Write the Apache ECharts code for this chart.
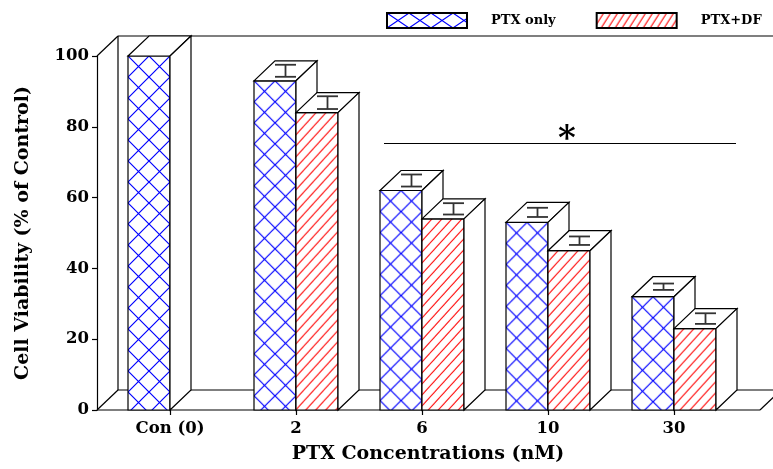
<!DOCTYPE html>
<html>
<head>
<meta charset="utf-8">
<script src="https://cdn.jsdelivr.net/npm/echarts@6/dist/echarts.min.js"></script>
<style>
  html, body { margin: 0; padding: 0; background: #fff; }
  #chart { width: 773px; height: 469px; }
</style>
</head>
<body>
<div id="chart"></div>
<script>
// Cell viability after PTX treatment, with and without DF
const categories = ['Con (0)', '2', '6', '10', '30'];
const ptxOnly    = [100, 93, 62, 53, 32];
const ptxOnlyErr = [0, 1.7, 1.7, 1.3, 0.9];
const ptxDf      = [null, 84, 54, 45, 23];
const ptxDfErr   = [0, 1.8, 1.6, 1.2, 1.5];
const seriesNames = ['PTX only', 'PTX+DF'];

// 3D depth offset of the pseudo-perspective boxes (px)
const DX = 21, DY = -20;
const FONT = 'DejaVu Serif';

function crossTile(w, h, color, lw) {
  const c = document.createElement('canvas');
  c.width = w; c.height = h;
  const g = c.getContext('2d');
  g.fillStyle = '#fff';
  g.fillRect(0, 0, w, h);
  g.strokeStyle = color; g.lineWidth = lw;
  g.beginPath();
  g.moveTo(-1, -1 * h / w); g.lineTo(w + 1, h + h / w);
  g.moveTo(w + 1, -h / w); g.lineTo(-1, h + h / w);
  g.stroke();
  return c;
}
function slashTile(w, h, color, lw) {
  const c = document.createElement('canvas');
  c.width = w; c.height = h;
  const g = c.getContext('2d');
  g.fillStyle = '#fff';
  g.fillRect(0, 0, w, h);
  g.strokeStyle = color; g.lineWidth = lw;
  g.beginPath();
  for (let k = -1; k <= 1; k++) {
    g.moveTo(k * w - 2, h + 2 * h / w);
    g.lineTo(k * w + w + 2, -2 * h / w);
  }
  g.stroke();
  return c;
}
const blueTile = crossTile(21, 21, '#0000ff', 1.2);
const redTile = slashTile(10, 11, '#ff0000', 1.1);
const blueLegendTile = crossTile(22, 15, '#0000ff', 1.1);
const redLegendTile = slashTile(7, 11, '#ff0000', 1.1);

function buildData(vals, errs) {
  const out = [];
  vals.forEach((v, i) => { if (v != null) out.push([i, v, errs[i]]); });
  return out;
}

function barRenderer(sideIdx, tile) {
  return function (params, api) {
    const ci = api.value(0), v = api.value(1), e = api.value(2);
    const top = api.coord([ci, v]);
    const base = api.coord([ci, 0]);
    const bw = api.size([1, 0])[0] / 3;
    const x0 = sideIdx === 0 ? top[0] - bw : top[0];
    const x1 = x0 + bw;
    const yT = top[1], yB = base[1];
    const line = { stroke: '#000', lineWidth: 1.2, fill: '#fff' };
    const children = [
      { type: 'rect', shape: { x: x0, y: yT, width: bw, height: yB - yT },
        style: { fill: '#fff' } },
      { type: 'rect', shape: { x: x0, y: yT, width: bw, height: yB - yT },
        style: { fill: { image: tile, repeat: 'repeat', x: x0, y: yT }, stroke: '#000', lineWidth: 1.2 } },
      { type: 'polygon', shape: { points: [[x0, yT], [x1, yT], [x1 + DX, yT + DY], [x0 + DX, yT + DY]] }, style: line },
      { type: 'polygon', shape: { points: [[x1, yT], [x1 + DX, yT + DY], [x1 + DX, yB + DY], [x1, yB]] }, style: line }
    ];
    if (e) {
      const cx = (x0 + x1) / 2 + DX / 2;
      const yh = api.coord([ci, v + e])[1] + DY / 2;
      const yl = api.coord([ci, v - e])[1] + DY / 2;
      const cap = bw / 4;
      const es = { stroke: '#333', lineWidth: 1.8 };
      children.push(
        { type: 'line', shape: { x1: cx, y1: yh, x2: cx, y2: yl }, style: es },
        { type: 'line', shape: { x1: cx - cap, y1: yh, x2: cx + cap, y2: yh }, style: es },
        { type: 'line', shape: { x1: cx - cap, y1: yl, x2: cx + cap, y2: yl }, style: es }
      );
    }
    return { type: 'group', children };
  };
}

// back wall and floor of the 3D box
function frameRenderer(params, api) {
  const cs = params.coordSys;
  const y0 = api.coord([0, 0])[1];
  const yTop = api.coord([0, 100])[1];
  const left = cs.x - 10;
  const right = cs.x + cs.width + DX + 2;
  const farRight = api.getWidth() + 20;
  const s = { stroke: '#000', lineWidth: 1.2 };
  const seg = (a, b, c, d) => ({ type: 'line', shape: { x1: a, y1: b, x2: c, y2: d }, style: s });
  return {
    type: 'group',
    children: [
      seg(left + DX, yTop + DY, farRight, yTop + DY),
      seg(left + DX, yTop + DY, left + DX, y0 + DY),
      seg(left, yTop, left + DX, yTop + DY),
      seg(left, y0, left + DX, y0 + DY),
      seg(left + DX, y0 + DY, farRight, y0 + DY),
      seg(left, y0, right, y0),
      seg(right, y0, right + DX, y0 + DY)
    ]
  };
}

const chart = echarts.init(document.getElementById('chart'), null, { renderer: 'canvas' });
chart.setOption({
  animation: false,
  backgroundColor: '#fff',
  textStyle: { fontFamily: FONT, fontWeight: 'bold', color: '#000' },
  grid: { left: 107, right: 36, top: 56, bottom: 59 },
  legend: {
    data: seriesNames,
    left: 381, top: 7,
    itemWidth: 80, itemHeight: 15, itemGap: 40,
    icon: 'rect',
    textStyle: { fontFamily: FONT, fontWeight: 'bold', fontSize: 13, color: '#000', padding: [0, 0, 0, 19] }
  },
  xAxis: {
    type: 'category',
    data: categories,
    name: 'PTX Concentrations (nM)',
    nameLocation: 'middle',
    nameGap: 35,
    nameTextStyle: { fontFamily: FONT, fontWeight: 'bold', fontSize: 19, color: '#000', padding: [0, 0, 0, 12] },
    axisLine: { show: false },
    axisTick: { show: true, alignWithLabel: true, length: 5, lineStyle: { color: '#000', width: 1.2 } },
    axisLabel: { fontFamily: FONT, fontWeight: 'bold', fontSize: 16.5, color: '#000', margin: 10 },
    splitLine: { show: false }
  },
  yAxis: {
    type: 'value',
    min: 0, max: 100, interval: 20,
    offset: 10,
    name: 'Cell Viability (% of Control)',
    nameLocation: 'middle',
    nameGap: 64,
    nameTextStyle: { fontFamily: FONT, fontWeight: 'bold', fontSize: 19, color: '#000' },
    axisLine: { show: true, lineStyle: { color: '#000', width: 1.2 } },
    axisTick: { show: true, length: 5, lineStyle: { color: '#000', width: 1.2 } },
    axisLabel: { fontFamily: FONT, fontWeight: 'bold', fontSize: 16.5, color: '#000', margin: 8 },
    splitLine: { show: false }
  },
  graphic: [
    { type: 'line', shape: { x1: 384, y1: 143.5, x2: 736, y2: 143.5 }, style: { stroke: '#000', lineWidth: 1.2 } },
    { type: 'text', x: 567, y: 140, style: { text: '*', font: 'bold 34px "DejaVu Serif"', fill: '#000', textAlign: 'center', textVerticalAlign: 'middle' } }
  ],
  series: [
    { type: 'custom', name: 'frame', z: 1, silent: true, data: [[0, 0]], renderItem: frameRenderer },
    {
      type: 'custom', name: seriesNames[0], z: 2,
      itemStyle: { color: { image: blueLegendTile, repeat: 'repeat' }, borderColor: '#000', borderWidth: 1 },
      data: buildData(ptxOnly, ptxOnlyErr),
      encode: { x: 0, y: 1 },
      renderItem: barRenderer(0, blueTile)
    },
    {
      type: 'custom', name: seriesNames[1], z: 3,
      itemStyle: { color: { image: redLegendTile, repeat: 'repeat' }, borderColor: '#000', borderWidth: 1 },
      data: buildData(ptxDf, ptxDfErr),
      encode: { x: 0, y: 1 },
      renderItem: barRenderer(1, redTile)
    }
  ]
});
</script>
</body>
</html>
